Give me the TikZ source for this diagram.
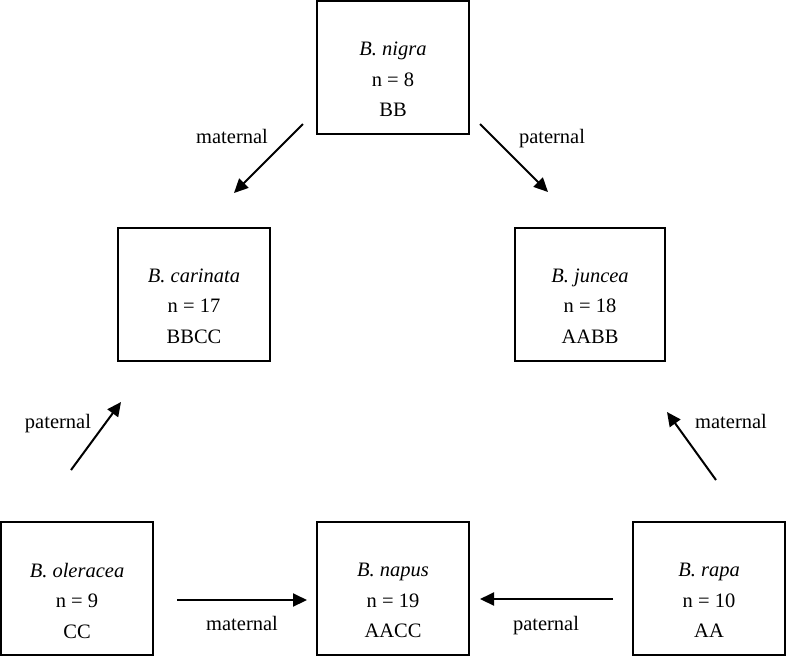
\documentclass[tikz,border=0pt]{standalone}
\usepackage{fontspec}
\setmainfont{Liberation Serif}
\usetikzlibrary{arrows.meta}
\begin{document}
\begin{tikzpicture}[x=1pt,y=-1pt,
  box/.style={draw, line width=2pt, minimum width=152pt, minimum height=133pt, inner sep=0pt},
  txt/.style={align=center, font=\fontsize{20.5}{30.5}\selectfont, inner sep=0pt},
  lbl/.style={font=\fontsize{20.5}{24}\selectfont, inner sep=0pt, anchor=base},
  arr/.style={line width=2pt, -{Triangle[length=14pt,width=13pt]}}]
\useasboundingbox (0,0) rectangle (786,657);
\node[box] (nigra) at (393,67.5) {};
\node[txt] at ([yshift=-12pt]nigra.center) {\textit{B. nigra}\\n = 8\\BB};
\node[box] (carinata) at (194,294) {};
\node[txt] at ([yshift=-12pt]carinata.center) {\textit{B. carinata}\\n = 17\\BBCC};
\node[box, minimum width=150pt] (juncea) at (590,294) {};
\node[txt] at ([yshift=-12pt]juncea.center) {\textit{B. juncea}\\n = 18\\AABB};
\node[box] (oleracea) at (77,588.5) {};
\node[txt] at ([yshift=-12pt]oleracea.center) {\textit{B. oleracea}\\n = 9\\CC};
\node[box] (napus) at (393,588.5) {};
\node[txt] at ([yshift=-12pt]napus.center) {\textit{B. napus}\\n = 19\\AACC};
\node[box] (rapa) at (709,588.5) {};
\node[txt] at ([yshift=-12pt]rapa.center) {\textit{B. rapa}\\n = 10\\AA};
% arrow end points
\coordinate (a1s) at (303,124); \coordinate (a1e) at (234,193);
\coordinate (a2s) at (480,124); \coordinate (a2e) at (548,192);
\coordinate (a3s) at (71,470);  \coordinate (a3e) at (121,402);
\coordinate (a4s) at (716,480); \coordinate (a4e) at (667,412);
\coordinate (a5s) at (177,600); \coordinate (a5e) at (307,600);
\coordinate (a6s) at (613,599); \coordinate (a6e) at (480,599);
\draw[arr] (a1s) -- (a1e);
\draw[arr] (a2s) -- (a2e);
\draw[arr] (a3s) -- (a3e);
\draw[arr] (a4s) -- (a4e);
\draw[arr] (a5s) -- (a5e);
\draw[arr] (a6s) -- (a6e);
\node[lbl] (l1) at (232,143) {maternal};
\node[lbl] (l2) at (552,143) {paternal};
\node[lbl] (l3) at (58,428) {paternal};
\node[lbl] (l4) at (731,428) {maternal};
\node[lbl] (l5) at (242,630) {maternal};
\node[lbl] (l6) at (546,630) {paternal};
\end{tikzpicture}
\end{document}
